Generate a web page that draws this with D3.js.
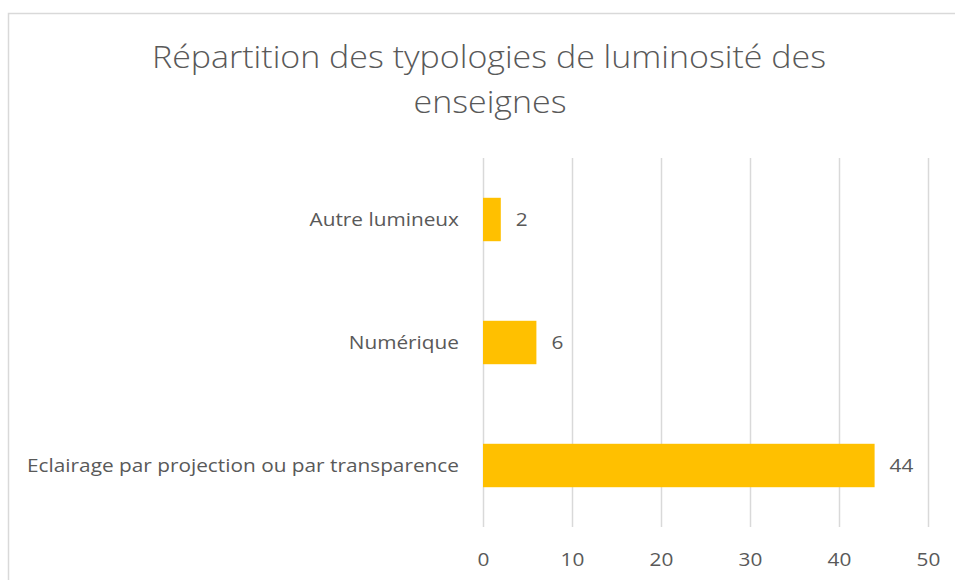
<!DOCTYPE html>
<html>
<head>
<meta charset="utf-8">
<script src="https://cdn.jsdelivr.net/npm/d3@7"></script>
<style>
  html, body { margin: 0; padding: 0; background: #fff; }
  svg { display: block; }
  text { font-family: "Open Sans", "Noto Sans", sans-serif; fill: #595959; }
</style>
</head>
<body>
<svg id="chart" width="955" height="580"></svg>
<script>
// Chart content
const titleLines = ["Répartition des typologies de luminosité des", "enseignes"];
const categories = ["Autre lumineux", "Numérique", "Eclairage par projection ou par transparence"];
const values = [2, 6, 44];
const tickValues = [0, 10, 20, 30, 40, 50];

const svg = d3.select("#chart");

// Chart area frame
svg.append("rect")
  .attr("x", 8.5).attr("y", 13.5)
  .attr("width", 960).attr("height", 600)
  .attr("fill", "#fff")
  .attr("stroke", "#d9d9d9").attr("stroke-width", 1.5);

const plot = { left: 483, right: 928, top: 158, bottom: 527 };

const x = d3.scaleLinear().domain([0, 50]).range([plot.left, plot.right]);
const y = d3.scaleBand()
  .domain(categories)
  .range([plot.top, plot.bottom])
  .paddingInner(0.647)
  .paddingOuter(0.3235);

// Narrow the glyphs of a text by a fixed factor
function condense(sel, factor) {
  sel.each(function () {
    const w = this.getComputedTextLength();
    d3.select(this)
      .attr("textLength", w * factor)
      .attr("lengthAdjust", "spacingAndGlyphs");
  });
}

const titleSize = 32;
const labelSize = 18.5;

// Title
const t1 = svg.append("text")
  .attr("x", 489).attr("y", 68)
  .attr("text-anchor", "middle")
  .style("font-size", titleSize + "px").style("font-weight", 300)
  .text(titleLines[0]);
const titleFactor = 674 / t1.node().getComputedTextLength();
condense(t1, titleFactor);
const t2 = svg.append("text")
  .attr("x", 490).attr("y", 113)
  .attr("text-anchor", "middle")
  .style("font-size", titleSize + "px").style("font-weight", 300)
  .text(titleLines[1]);
condense(t2, titleFactor);

// Label compression from the longest category name
const probe = svg.append("text").style("font-size", labelSize + "px").text(categories[2]);
const labelFactor = 432 / probe.node().getComputedTextLength();
probe.remove();

// Gridlines
const grid = d3.axisBottom(x).tickValues(tickValues)
  .tickSize(-(plot.bottom - plot.top)).tickFormat("");
svg.append("g")
  .attr("transform", `translate(0,${plot.bottom})`)
  .call(grid)
  .call(g => g.select(".domain").remove())
  .call(g => g.selectAll(".tick line").attr("stroke", "#d9d9d9").attr("stroke-width", 1.5));

// Tick labels
const xAxis = d3.axisBottom(x).tickValues(tickValues).tickSize(0).tickPadding(0);
svg.append("g")
  .attr("transform", `translate(0,${plot.bottom})`)
  .call(xAxis)
  .call(g => g.select(".domain").remove())
  .call(g => g.selectAll(".tick text")
    .attr("y", 39).attr("dy", null)
    .style("font-size", labelSize + "px")
    .style("font-family", '"Open Sans", "Noto Sans", sans-serif')
    .attr("fill", "#595959")
    .call(condense, labelFactor));

// Category labels
const yAxis = d3.axisLeft(y).tickSize(0).tickPadding(24);
svg.append("g")
  .attr("transform", `translate(${plot.left},0)`)
  .call(yAxis)
  .call(g => g.select(".domain").remove())
  .call(g => g.selectAll(".tick text")
    .attr("dy", "0.36em")
    .style("font-size", labelSize + "px")
    .style("font-family", '"Open Sans", "Noto Sans", sans-serif')
    .attr("fill", "#595959")
    .call(condense, labelFactor));

// Bars
const data = categories.map((c, i) => ({ c, v: values[i] }));
svg.append("g").selectAll("rect")
  .data(data).join("rect")
  .attr("x", x(0))
  .attr("y", d => y(d.c))
  .attr("width", d => x(d.v) - x(0))
  .attr("height", y.bandwidth())
  .attr("fill", "#ffc000");

// Value labels
svg.append("g").selectAll("text")
  .data(data).join("text")
  .attr("x", d => x(d.v) + 15)
  .attr("y", d => y(d.c) + y.bandwidth() / 2)
  .attr("dy", "0.36em")
  .style("font-size", labelSize + "px")
  .text(d => d.v)
  .call(condense, labelFactor);
</script>
</body>
</html>
